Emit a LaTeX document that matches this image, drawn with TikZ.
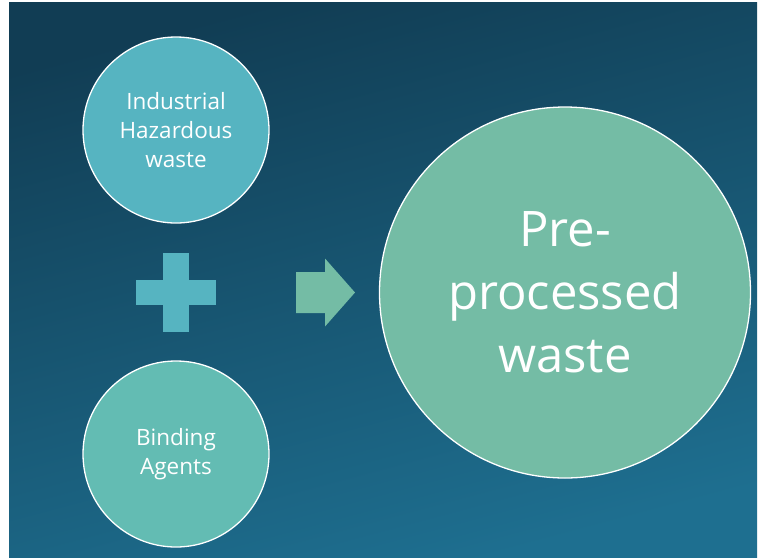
\documentclass[tikz,border=0pt]{standalone}
\usepackage{fontspec}
\setmainfont{Open Sans}
\usepackage{xcolor}
\usepackage{tikz}
\usetikzlibrary{calc,positioning}
\definecolor{bgtop}{HTML}{113D54}
\definecolor{bgmid}{HTML}{123F56}
\definecolor{bgbot}{HTML}{1E6F90}
\definecolor{cyanfill}{HTML}{56B4C1}
\definecolor{tealfill}{HTML}{63BCB3}
\definecolor{greenfill}{HTML}{74BCA5}
\tikzstyle{smallcircle} = [circle, draw=white, line width=1.3pt, minimum size=186pt, inner sep=0pt, align=center, text=white, font=\fontsize{22.5}{29}\selectfont]
\tikzstyle{bigcircle} = [circle, draw=white, line width=1.3pt, minimum size=371pt, inner sep=0pt, align=center, text=white, fill=greenfill, font=\fontsize{49}{63}\selectfont]
\tikzstyle{flowarrow} = [fill=greenfill]
\tikzstyle{plussign} = [fill=cyanfill]

\begin{document}
\begin{tikzpicture}
		[x=1pt, y=-1pt, node distance=324pt]
		\useasboundingbox (0,0) rectangle (760,558);
		\fill[white] (0,0) rectangle (760,558);
		\shade[shading=axis, top color=bgtop, middle color=bgmid, bottom color=bgbot, shading angle=15] (9,2) rectangle (757,557);
		
		\node[smallcircle, fill=cyanfill] (hazard) at (176,130) {Industrial\\Hazardous\\waste};
		\node[smallcircle, fill=tealfill, below of=hazard] (binding) {Binding\\Agents};
		\node[bigcircle] (result) at (565,292.5) {Pre-\\processed\\waste};
		
		% plus between the two inputs
		\coordinate (plus) at ($(hazard)!0.5!(binding)$);
		\fill[plussign] ($(plus)+(-40,-12.5)$) rectangle ($(plus)+(40,12.5)$);
		\fill[plussign] ($(plus)+(-13,-39.5)$) rectangle ($(plus)+(13,39.5)$);
		
		% block arrow towards the result
		\coordinate (flow) at (296,292.5);
		\fill[flowarrow] (flow) ++(0,-20.5) -- ++(29,0) -- ++(0,-13.5) -- ++(30,34)
			-- ++(-30,34) -- ++(0,-13.5) -- ++(-29,0) -- cycle;
\end{tikzpicture}
\end{document}
